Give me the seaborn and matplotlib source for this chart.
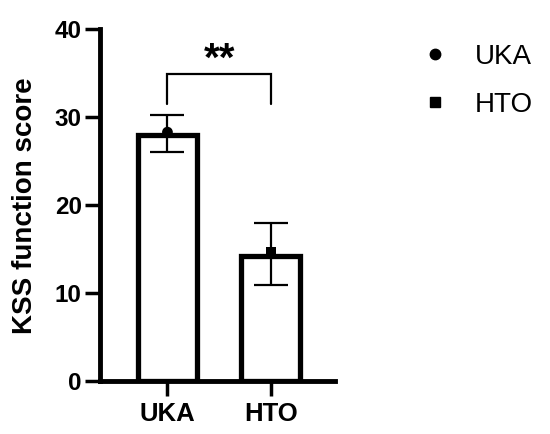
import matplotlib
matplotlib.use("Agg")
import matplotlib.pyplot as plt
import seaborn as sns
import pandas as pd
from matplotlib.lines import Line2D

groups = ["UKA", "HTO"]
bar_means = [28.0, 14.2]
point_values = [28.3, 14.6]
err_low = [26.1, 11.0]
err_high = [30.2, 18.0]
bracket_low = 31.5
bracket_high = 34.85
sig_label = "**"
y_ticks = [0, 10, 20, 30, 40]

sns.set_theme(style="ticks")
plt.rcParams["font.family"] = ["Liberation Sans", "DejaVu Sans"]
plt.rcParams["text.color"] = "black"
plt.rcParams["axes.labelcolor"] = "black"

df = pd.DataFrame({"group": groups, "mean": bar_means, "point": point_values,
                   "lo": err_low, "hi": err_high})

fig = plt.figure(figsize=(5.5, 4.34), dpi=100)
ax = fig.add_axes([0.1827, 0.121, 0.4264, 0.812])

sns.barplot(data=df, x="group", y="mean", order=groups, color="white",
            edgecolor="black", linewidth=3.8, width=0.57, errorbar=None,
            ax=ax, zorder=2)

xs = list(range(len(groups)))
means_c = [(l + h) / 2 for l, h in zip(err_low, err_high)]
yerr = [[m - l for m, l in zip(means_c, err_low)], [h - m for h, m in zip(err_high, means_c)]]
ax.errorbar(xs, means_c, yerr=yerr, fmt="none", ecolor="black",
            elinewidth=1.6, capsize=12.5, capthick=1.6, zorder=3)

sns.scatterplot(data=df, x="group", y="point", style="group",
                markers={"UKA": "o", "HTO": "s"}, color="black",
                s=60, linewidth=0, ax=ax, zorder=4, legend=False)

# significance bracket
ax.plot([0, 0, 1, 1], [bracket_low, bracket_high, bracket_high, bracket_low],
        color="black", lw=1.6, solid_joinstyle="miter", zorder=3)
ax.text(0.5, 36.5, sig_label, ha="center", va="center", fontsize=29,
        fontweight="bold", color="black")

ax.set_xlim(-0.647, 1.619)
ax.set_ylim(0, 40)
ax.set_yticks(y_ticks)
ax.set_xlabel("")
ax.set_ylabel("KSS function score", fontsize=20, fontweight="bold", labelpad=12,
              color="black")
for s in ["top", "right"]:
    ax.spines[s].set_visible(False)
for s in ["left", "bottom"]:
    ax.spines[s].set_linewidth(3.5)
    ax.spines[s].set_color("black")
ax.tick_params(axis="y", length=10.5, width=2.5, pad=3, labelsize=17.5, colors="black")
ax.tick_params(axis="x", length=11, width=2.5, pad=4, labelsize=18.5, colors="black")
for lab in ax.get_xticklabels() + ax.get_yticklabels():
    lab.set_fontweight("bold")

handles = [Line2D([], [], marker="o", color="black", linestyle="none", markersize=7.5),
           Line2D([], [], marker="s", color="black", linestyle="none", markersize=6.5)]
leg = fig.legend(handles, groups, loc="upper left", bbox_to_anchor=(0.7505, 0.925),
                 frameon=False, fontsize=20, handlelength=0.8, handletextpad=1.02,
                 labelspacing=0.8, borderaxespad=0)
for t in leg.get_texts():
    t.set_color("black")

fig.savefig("out.png", dpi=100)
